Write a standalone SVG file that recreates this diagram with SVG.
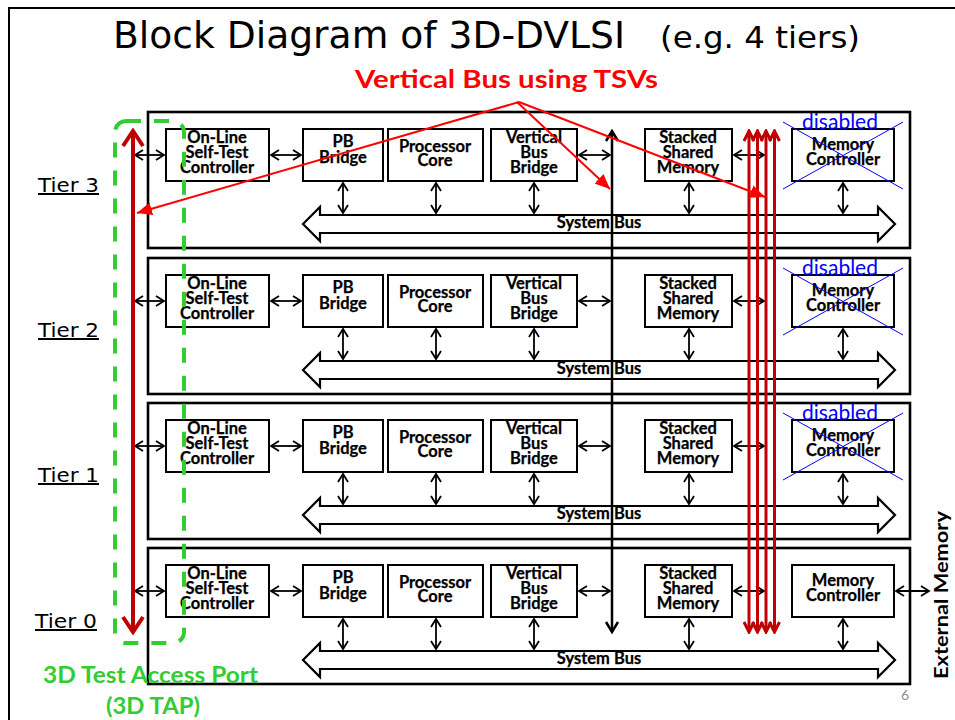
<svg xmlns="http://www.w3.org/2000/svg" width="955" height="720" viewBox="0 0 955 720">
  <style>
    .tier { fill: none; stroke: #000; stroke-width: 2.6; }
    .box { fill: #fff; stroke: #000; stroke-width: 2; }
    .bus { fill: #fff; stroke: #000; stroke-width: 2.2; stroke-linejoin: miter; }
    .lbl { font-family: Lato, "Liberation Sans", sans-serif; font-weight: bold; font-size: 16.5px; fill: #000; stroke: #000; stroke-width: 0.25; text-anchor: middle; }
    .arr { fill: none; stroke: #000; stroke-width: 1.8; marker-start: url(#chev); marker-end: url(#chev); }
    .tierlbl { font-family: "DejaVu Sans", Verdana, sans-serif; font-size: 20px; fill: #000; text-decoration: underline; }
    .dis { font-family: Lato, "Liberation Sans", sans-serif; font-size: 21px; fill: #0000ff; text-anchor: middle; }
    .x { stroke: #0000ff; stroke-width: 1; }
    .tsv { fill: none; stroke: #c00000; stroke-width: 3; marker-start: url(#chevRed); marker-end: url(#chevRed); }
    .call { fill: none; stroke: #ff0000; stroke-width: 2; marker-end: url(#tri); }
  </style>
  <defs>
    <marker id="chev" markerUnits="userSpaceOnUse" viewBox="-10 -6 12 12" refX="0" refY="0" markerWidth="12" markerHeight="12" orient="auto-start-reverse">
      <path d="M-8,-5 L0,0 L-8,5" fill="none" stroke="#000" stroke-width="1.8"/>
    </marker>
    <marker id="chevBig" markerUnits="userSpaceOnUse" viewBox="-13 -8 15 16" refX="0" refY="0" markerWidth="15" markerHeight="16" orient="auto-start-reverse">
      <path d="M-10,-6 L0,0 L-10,6" fill="none" stroke="#000" stroke-width="2.5"/>
    </marker>
    <marker id="chevRed" markerUnits="userSpaceOnUse" viewBox="-12 -7 14 14" refX="0" refY="0" markerWidth="14" markerHeight="14" orient="auto-start-reverse">
      <path d="M-10,-5 L0,0 L-10,5" fill="none" stroke="#c00000" stroke-width="3"/>
    </marker>
    <marker id="chevRedBig" markerUnits="userSpaceOnUse" viewBox="-18 -12 21 24" refX="0" refY="0" markerWidth="21" markerHeight="24" orient="auto-start-reverse">
      <path d="M-15,-10 L0,0 L-15,10" fill="none" stroke="#c00000" stroke-width="4"/>
    </marker>
    <marker id="tri" markerUnits="userSpaceOnUse" viewBox="-15 -7 16 14" refX="0" refY="0" markerWidth="16" markerHeight="14" orient="auto">
      <path d="M-15,-6.5 L0,0 L-15,6.5 Z" fill="#ff0000"/>
    </marker>
    <path id="sysbus" d="M303,112 L320,95 L320,103 L878,103 L878,95 L895,112 L878,129 L878,121 L320,121 L320,129 Z"/>
  </defs>

  <rect width="955" height="720" fill="#fff"/>
  <!-- slide frame -->
  <path d="M9,720 L9,8 L955,8" fill="none" stroke="#000" stroke-width="2"/>

  <!-- headings -->
  <text x="113" y="48" font-family="'DejaVu Sans', Verdana, sans-serif" font-size="38" textLength="512" lengthAdjust="spacingAndGlyphs">Block Diagram of 3D-DVLSI</text>
  <text x="660" y="48" font-family="'DejaVu Sans', Verdana, sans-serif" font-size="30" textLength="200" lengthAdjust="spacingAndGlyphs">(e.g. 4 tiers)</text>
  <text x="355" y="88" font-family="Lato, 'Liberation Sans', sans-serif" font-weight="bold" font-size="24" fill="#ff0000" textLength="303" lengthAdjust="spacingAndGlyphs">Vertical Bus using TSVs</text>

  <!-- tier labels -->
  <text class="tierlbl" x="38" y="192" textLength="61" lengthAdjust="spacingAndGlyphs">Tier 3</text>
  <text class="tierlbl" x="38" y="337" textLength="61" lengthAdjust="spacingAndGlyphs">Tier 2</text>
  <text class="tierlbl" x="38" y="482" textLength="61" lengthAdjust="spacingAndGlyphs">Tier 1</text>
  <text class="tierlbl" x="35" y="628" textLength="62" lengthAdjust="spacingAndGlyphs">Tier 0</text>

  <!-- Tier 3 -->
  <g id="tier3" transform="translate(0,112)">
    <rect class="tier" x="148" y="0" width="762" height="136"/>
    <g id="t3-olst"><rect class="box" x="166" y="17" width="103" height="52"/><text class="lbl" x="217" y="31">On-Line</text><text class="lbl" x="217" y="46">Self-Test</text><text class="lbl" x="217" y="61">Controller</text></g>
    <g id="t3-pb"><rect class="box" x="303" y="17" width="80" height="52"/><text class="lbl" x="343" y="35">PB</text><text class="lbl" x="343" y="51">Bridge</text></g>
    <g id="t3-core"><rect class="box" x="388" y="17" width="95" height="52"/><text class="lbl" x="435" y="40">Processor</text><text class="lbl" x="435" y="54">Core</text></g>
    <g id="t3-vbb"><rect class="box" x="491" y="17" width="86" height="52"/><text class="lbl" x="534" y="31">Vertical</text><text class="lbl" x="534" y="46">Bus</text><text class="lbl" x="534" y="61">Bridge</text></g>
    <g id="t3-ssm"><rect class="box" x="645" y="17" width="87" height="52"/><text class="lbl" x="688" y="31">Stacked</text><text class="lbl" x="688" y="46">Shared</text><text class="lbl" x="688" y="61">Memory</text></g>
    <g id="t3-mc"><rect class="box" x="792" y="17" width="102" height="52"/><text class="lbl" x="843" y="38">Memory</text><text class="lbl" x="843" y="53">Controller</text>
      <line class="x" x1="783" y1="10" x2="903" y2="77"/><line class="x" x1="783" y1="77" x2="903" y2="10"/>
      <text class="dis" x="840" y="17">disabled</text></g>
    <g id="t3-bus"><use href="#sysbus" class="bus"/><text class="lbl" x="599" y="116">System Bus</text></g>
  </g>

  <!-- Tier 2 -->
  <g id="tier2" transform="translate(0,258)">
    <rect class="tier" x="148" y="0" width="762" height="136"/>
    <g id="t2-olst"><rect class="box" x="166" y="17" width="103" height="52"/><text class="lbl" x="217" y="31">On-Line</text><text class="lbl" x="217" y="46">Self-Test</text><text class="lbl" x="217" y="61">Controller</text></g>
    <g id="t2-pb"><rect class="box" x="303" y="17" width="80" height="52"/><text class="lbl" x="343" y="35">PB</text><text class="lbl" x="343" y="51">Bridge</text></g>
    <g id="t2-core"><rect class="box" x="388" y="17" width="95" height="52"/><text class="lbl" x="435" y="40">Processor</text><text class="lbl" x="435" y="54">Core</text></g>
    <g id="t2-vbb"><rect class="box" x="491" y="17" width="86" height="52"/><text class="lbl" x="534" y="31">Vertical</text><text class="lbl" x="534" y="46">Bus</text><text class="lbl" x="534" y="61">Bridge</text></g>
    <g id="t2-ssm"><rect class="box" x="645" y="17" width="87" height="52"/><text class="lbl" x="688" y="31">Stacked</text><text class="lbl" x="688" y="46">Shared</text><text class="lbl" x="688" y="61">Memory</text></g>
    <g id="t2-mc"><rect class="box" x="792" y="17" width="102" height="52"/><text class="lbl" x="843" y="38">Memory</text><text class="lbl" x="843" y="53">Controller</text>
      <line class="x" x1="783" y1="10" x2="903" y2="77"/><line class="x" x1="783" y1="77" x2="903" y2="10"/>
      <text class="dis" x="840" y="17">disabled</text></g>
    <g id="t2-bus"><use href="#sysbus" class="bus"/><text class="lbl" x="599" y="116">System Bus</text></g>
  </g>

  <!-- Tier 1 -->
  <g id="tier1" transform="translate(0,403)">
    <rect class="tier" x="148" y="0" width="762" height="136"/>
    <g id="t1-olst"><rect class="box" x="166" y="17" width="103" height="52"/><text class="lbl" x="217" y="31">On-Line</text><text class="lbl" x="217" y="46">Self-Test</text><text class="lbl" x="217" y="61">Controller</text></g>
    <g id="t1-pb"><rect class="box" x="303" y="17" width="80" height="52"/><text class="lbl" x="343" y="35">PB</text><text class="lbl" x="343" y="51">Bridge</text></g>
    <g id="t1-core"><rect class="box" x="388" y="17" width="95" height="52"/><text class="lbl" x="435" y="40">Processor</text><text class="lbl" x="435" y="54">Core</text></g>
    <g id="t1-vbb"><rect class="box" x="491" y="17" width="86" height="52"/><text class="lbl" x="534" y="31">Vertical</text><text class="lbl" x="534" y="46">Bus</text><text class="lbl" x="534" y="61">Bridge</text></g>
    <g id="t1-ssm"><rect class="box" x="645" y="17" width="87" height="52"/><text class="lbl" x="688" y="31">Stacked</text><text class="lbl" x="688" y="46">Shared</text><text class="lbl" x="688" y="61">Memory</text></g>
    <g id="t1-mc"><rect class="box" x="792" y="17" width="102" height="52"/><text class="lbl" x="843" y="38">Memory</text><text class="lbl" x="843" y="53">Controller</text>
      <line class="x" x1="783" y1="10" x2="903" y2="77"/><line class="x" x1="783" y1="77" x2="903" y2="10"/>
      <text class="dis" x="840" y="17">disabled</text></g>
    <g id="t1-bus"><use href="#sysbus" class="bus"/><text class="lbl" x="599" y="116">System Bus</text></g>
  </g>

  <!-- Tier 0 -->
  <g id="tier0" transform="translate(0,548)">
    <rect class="tier" x="148" y="0" width="762" height="136"/>
    <g id="t0-olst"><rect class="box" x="166" y="17" width="103" height="52"/><text class="lbl" x="217" y="31">On-Line</text><text class="lbl" x="217" y="46">Self-Test</text><text class="lbl" x="217" y="61">Controller</text></g>
    <g id="t0-pb"><rect class="box" x="303" y="17" width="80" height="52"/><text class="lbl" x="343" y="35">PB</text><text class="lbl" x="343" y="51">Bridge</text></g>
    <g id="t0-core"><rect class="box" x="388" y="17" width="95" height="52"/><text class="lbl" x="435" y="40">Processor</text><text class="lbl" x="435" y="54">Core</text></g>
    <g id="t0-vbb"><rect class="box" x="491" y="17" width="86" height="52"/><text class="lbl" x="534" y="31">Vertical</text><text class="lbl" x="534" y="46">Bus</text><text class="lbl" x="534" y="61">Bridge</text></g>
    <g id="t0-ssm"><rect class="box" x="645" y="17" width="87" height="52"/><text class="lbl" x="688" y="31">Stacked</text><text class="lbl" x="688" y="46">Shared</text><text class="lbl" x="688" y="61">Memory</text></g>
    <g id="t0-mc"><rect class="box" x="792" y="17" width="102" height="52"/><text class="lbl" x="843" y="38">Memory</text><text class="lbl" x="843" y="53">Controller</text></g>
    <g id="t0-bus"><use href="#sysbus" class="bus"/><text class="lbl" x="599" y="116">System Bus</text></g>
  </g>

  <!-- 3D test access port outline -->
  <g id="tap">
    <rect x="115" y="121" width="69" height="522" rx="11" fill="none" stroke="#33cc33" stroke-width="4" stroke-dasharray="15 13"/>
    <text x="43" y="683" font-family="Lato, 'Liberation Sans', sans-serif" font-weight="bold" font-size="22" fill="#33cc33" textLength="215" lengthAdjust="spacingAndGlyphs">3D Test Access Port</text>
    <text x="106" y="714" font-family="Lato, 'Liberation Sans', sans-serif" font-weight="bold" font-size="22" fill="#33cc33" textLength="94" lengthAdjust="spacingAndGlyphs">(3D TAP)</text>
  </g>

  <g id="extmem">
    <text transform="translate(948,595) rotate(-90)" text-anchor="middle" font-family="Lato, 'Liberation Sans', sans-serif" font-weight="bold" font-size="18" textLength="168" lengthAdjust="spacingAndGlyphs">External Memory</text>
  </g>

  <text x="905" y="700" font-family="Lato, 'Liberation Sans', sans-serif" font-size="14" fill="#8c8c8c" text-anchor="middle">6</text>

  <!-- connectors -->
  <g id="connectors">
    <!-- per-tier links: box-to-box, box-to-bus -->
    <g transform="translate(0,112)">
      <line class="arr" x1="135" y1="43" x2="164" y2="43"/><line class="arr" x1="271" y1="43" x2="301" y2="43"/>
      <line class="arr" x1="579" y1="43" x2="610" y2="43"/><line class="arr" x1="734" y1="43" x2="764" y2="43"/>
      <line class="arr" x1="343" y1="71" x2="343" y2="101"/><line class="arr" x1="436" y1="71" x2="436" y2="101"/>
      <line class="arr" x1="534" y1="71" x2="534" y2="101"/><line class="arr" x1="689" y1="71" x2="689" y2="101"/>
      <line class="arr" x1="843" y1="71" x2="843" y2="101"/>
    </g>
    <g transform="translate(0,258)">
      <line class="arr" x1="135" y1="43" x2="164" y2="43"/><line class="arr" x1="271" y1="43" x2="301" y2="43"/>
      <line class="arr" x1="579" y1="43" x2="610" y2="43"/><line class="arr" x1="734" y1="43" x2="764" y2="43"/>
      <line class="arr" x1="343" y1="71" x2="343" y2="101"/><line class="arr" x1="436" y1="71" x2="436" y2="101"/>
      <line class="arr" x1="534" y1="71" x2="534" y2="101"/><line class="arr" x1="689" y1="71" x2="689" y2="101"/>
      <line class="arr" x1="843" y1="71" x2="843" y2="101"/>
    </g>
    <g transform="translate(0,403)">
      <line class="arr" x1="135" y1="43" x2="164" y2="43"/><line class="arr" x1="271" y1="43" x2="301" y2="43"/>
      <line class="arr" x1="579" y1="43" x2="610" y2="43"/><line class="arr" x1="734" y1="43" x2="764" y2="43"/>
      <line class="arr" x1="343" y1="71" x2="343" y2="101"/><line class="arr" x1="436" y1="71" x2="436" y2="101"/>
      <line class="arr" x1="534" y1="71" x2="534" y2="101"/><line class="arr" x1="689" y1="71" x2="689" y2="101"/>
      <line class="arr" x1="843" y1="71" x2="843" y2="101"/>
    </g>
    <g transform="translate(0,548)">
      <line class="arr" x1="135" y1="43" x2="164" y2="43"/><line class="arr" x1="271" y1="43" x2="301" y2="43"/>
      <line class="arr" x1="579" y1="43" x2="610" y2="43"/><line class="arr" x1="734" y1="43" x2="764" y2="43"/>
      <line class="arr" x1="343" y1="71" x2="343" y2="101"/><line class="arr" x1="436" y1="71" x2="436" y2="101"/>
      <line class="arr" x1="534" y1="71" x2="534" y2="101"/><line class="arr" x1="689" y1="71" x2="689" y2="101"/>
      <line class="arr" x1="843" y1="71" x2="843" y2="101"/>
      <line class="arr" x1="896" y1="43" x2="929" y2="43"/>
    </g>

    <!-- test access port vertical bus -->
    <line x1="133" y1="131" x2="133" y2="632" stroke="#c00000" stroke-width="4" marker-start="url(#chevRedBig)" marker-end="url(#chevRedBig)"/>
    <!-- vertical bus bridge line -->
    <line x1="612" y1="131" x2="612" y2="632" stroke="#000" stroke-width="2.5" marker-start="url(#chevBig)" marker-end="url(#chevBig)"/>
    <!-- TSV bundle -->
    <line class="tsv" x1="749" y1="131" x2="749" y2="632"/>
    <line class="tsv" x1="757.5" y1="131" x2="757.5" y2="632"/>
    <line class="tsv" x1="766" y1="131" x2="766" y2="632"/>
    <line class="tsv" x1="774.5" y1="131" x2="774.5" y2="632"/>

    <!-- callout arrows -->
    <line class="call" x1="519" y1="102" x2="137" y2="213"/>
    <line class="call" x1="517" y1="102" x2="610" y2="189"/>
    <line class="call" x1="519" y1="102" x2="765" y2="197"/>
  </g>
</svg>
